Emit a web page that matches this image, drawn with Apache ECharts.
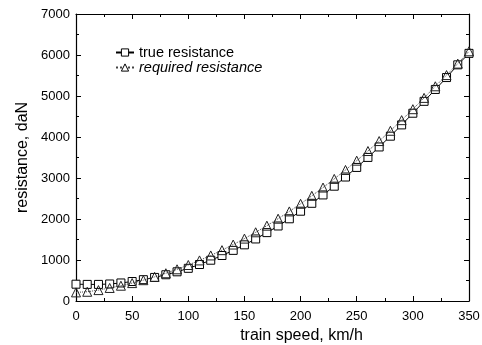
<!DOCTYPE html>
<html>
<head>
<meta charset="utf-8">
<script src="https://cdn.jsdelivr.net/npm/echarts@6/dist/echarts.min.js"></script>
<style>html,body{margin:0;padding:0;background:#fff}#c{width:482px;height:345px}</style>
</head>
<body>
<div id="c"></div>
<script>
const speeds = [0,10,20,30,40,50,60,70,80,90,100,110,120,130,140,150,160,170,180,190,200,210,220,230,240,250,260,270,280,290,300,310,320,330,340,350];
const trueResistance = [410,405,405,415,440,475,520,575,640,712,797,890,995,1110,1235,1370,1513,1668,1830,2005,2190,2383,2587,2800,3024,3258,3502,3757,4020,4295,4580,4870,5160,5450,5760,6040];
const requiredResistance = [210,225,266,318,373,437,508,589,677,773,878,990,1111,1240,1377,1522,1676,1837,2007,2185,2371,2565,2767,2978,3196,3423,3658,3901,4152,4411,4678,4954,5237,5510,5790,6090];
const xTicks = [0,50,100,150,200,250,300,350];
const yTicks = [0,1000,2000,3000,4000,5000,6000,7000];

const font = 'Liberation Sans, Arial, sans-serif';
const chart = echarts.init(document.getElementById('c'));
const pair = a => speeds.map((s,i)=>[s,a[i]]);
const mkTick = () => ({show:true, inside:true, length:5, lineStyle:{color:'#000', width:1}});
const mkMinor = () => ({show:true, splitNumber:2, length:3, lineStyle:{color:'#000', width:1}});
const mkLine = () => ({show:true, onZero:false, lineStyle:{color:'#000', width:1.2}});
chart.setOption({
  animation:false,
  backgroundColor:'#fff',
  grid:{left:76, right:13, top:14, bottom:44, containLabel:false, outerBoundsMode:'none'},
  legend:{
    left:110, top:40, orient:'vertical', itemGap:0, itemWidth:18, itemHeight:9,
    textStyle:{fontFamily:font, fontSize:14.5, color:'#000'},
    itemStyle:{color:'#fff', borderColor:'#000', borderWidth:1},
    data:[
      {name:'true resistance'},
      {name:'required resistance', textStyle:{fontStyle:'italic'}}
    ]
  },
  xAxis:[{
    type:'value', min:0, max:350, interval:50, position:'bottom',
    name:'train speed, km/h', nameLocation:'middle', nameGap:17,
    nameTextStyle:{fontFamily:font, fontSize:16, color:'#000', padding:[0,0,0,58]},
    axisLine:mkLine(), axisTick:mkTick(), minorTick:mkMinor(),
    axisLabel:{fontFamily:font, fontSize:13, color:'#000', margin:9},
    splitLine:{show:false}
  },{
    type:'value', min:0, max:350, interval:50, position:'top',
    axisLine:mkLine(), axisTick:mkTick(), minorTick:mkMinor(),
    axisLabel:{show:false}, splitLine:{show:false}
  }],
  yAxis:[{
    type:'value', min:0, max:7000, interval:1000, position:'left',
    name:'resistance, daN', nameLocation:'middle', nameGap:44, nameRotate:90,
    nameTextStyle:{fontFamily:font, fontSize:16, color:'#000'},
    axisLine:mkLine(), axisTick:mkTick(), minorTick:mkMinor(),
    axisLabel:{fontFamily:font, fontSize:13, color:'#000', margin:6, formatter:v=>String(v)},
    splitLine:{show:false}
  },{
    type:'value', min:0, max:7000, interval:1000, position:'right',
    axisLine:mkLine(), axisTick:mkTick(), minorTick:mkMinor(),
    axisLabel:{show:false}, splitLine:{show:false}
  }],
  series:[
    {
      name:'true resistance', type:'line', data:pair(trueResistance),
      symbol:'rect', symbolSize:8, showAllSymbol:true,
      lineStyle:{color:'#000', width:1},
      itemStyle:{color:'#fff', borderColor:'#000', borderWidth:1},
      z:3
    },
    {
      name:'required resistance', type:'line', data:pair(requiredResistance),
      symbol:'triangle', symbolSize:9, showAllSymbol:true,
      lineStyle:{color:'#444', width:1, type:'dotted'},
      itemStyle:{color:'rgba(255,255,255,0)', borderColor:'#222', borderWidth:1},
      z:4
    }
  ]
});
</script>
</body>
</html>
